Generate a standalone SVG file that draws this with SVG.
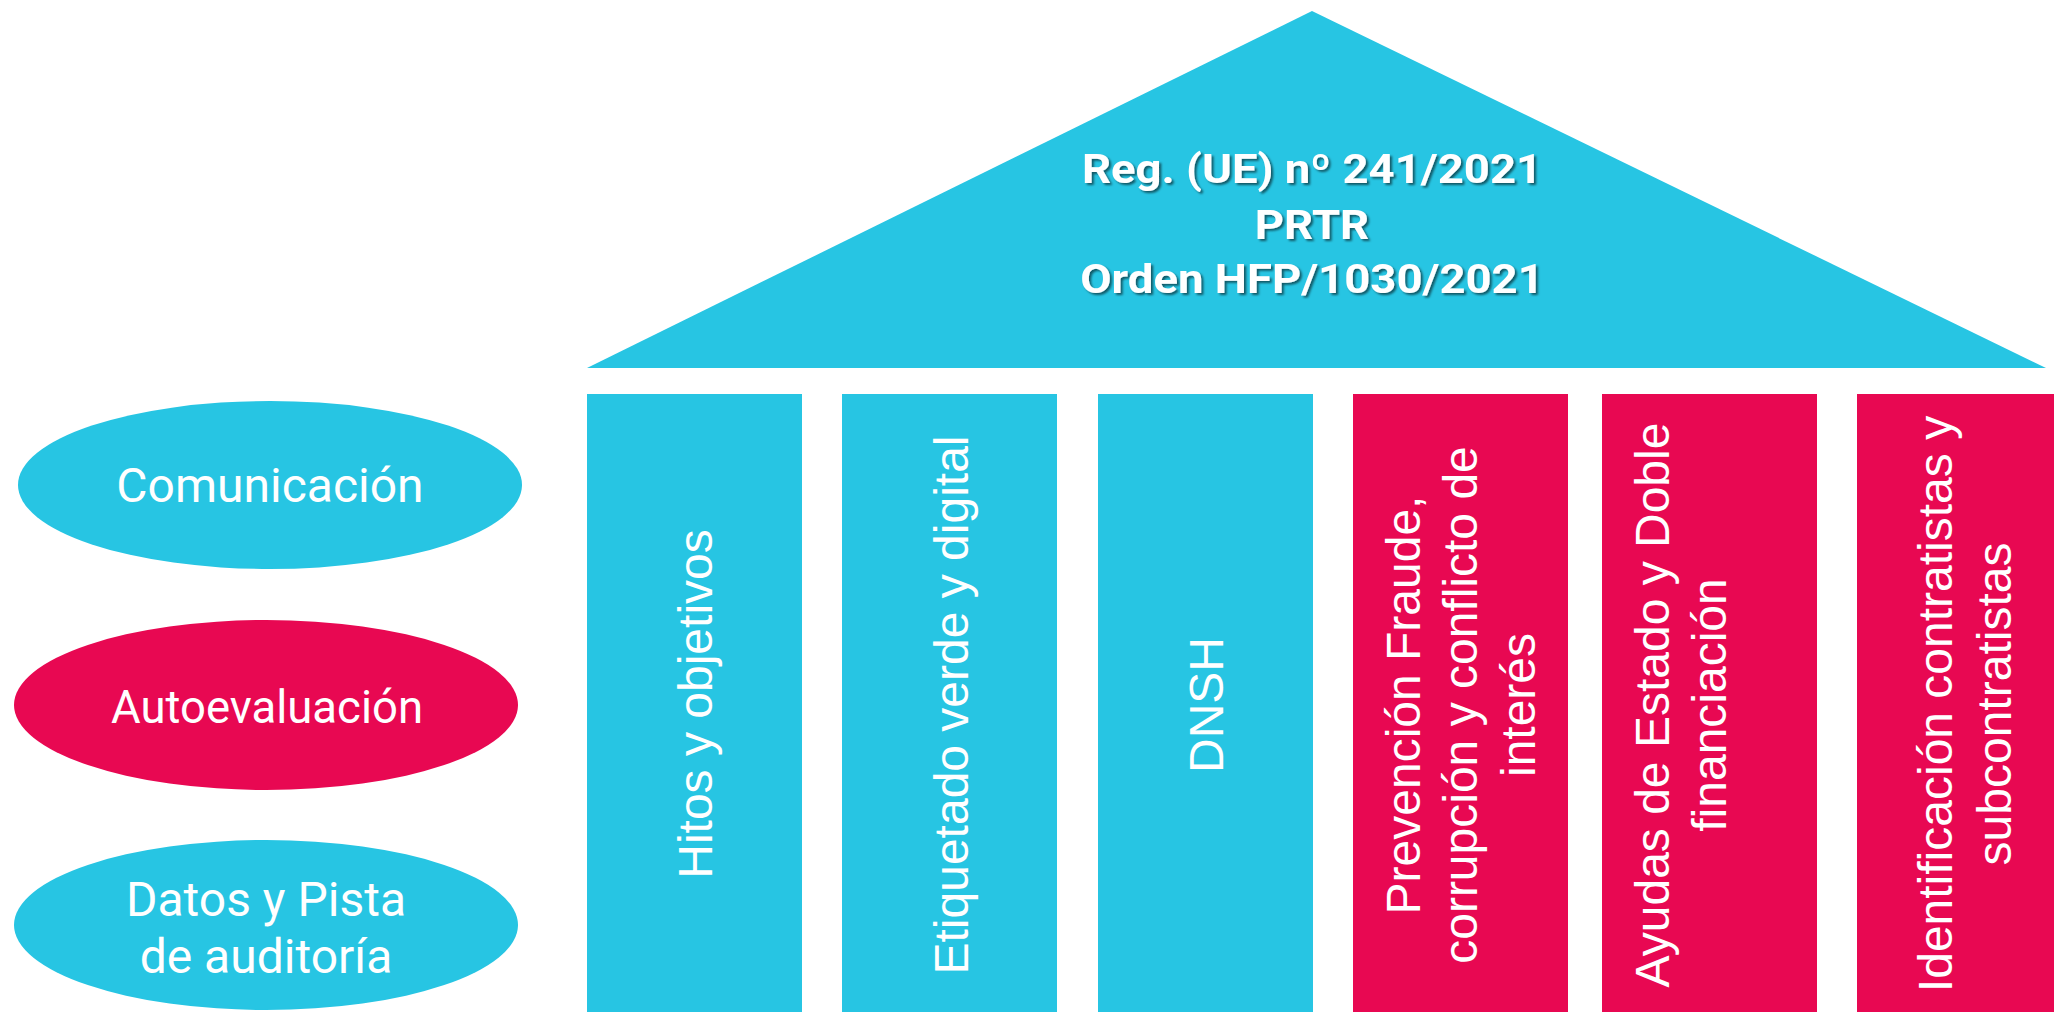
<svg xmlns="http://www.w3.org/2000/svg" width="2054" height="1012" viewBox="0 0 2054 1012">
  <defs>
    <filter id="shadow" x="-10%" y="-30%" width="120%" height="160%">
      <feDropShadow dx="2" dy="2" stdDeviation="1" flood-color="#000" flood-opacity="0.55"/>
    </filter>
  </defs>
  <style>
    .cyan { fill: #27C5E3; }
    .mag { fill: #E80852; }
    .ell { font-family: Roboto, "Liberation Sans", sans-serif; font-size: 48px; fill: #fff; text-anchor: middle; }
    .col { font-family: "Liberation Sans", Arial, sans-serif; font-size: 48px; fill: #fff; text-anchor: middle; }
    .roof { font-family: Roboto, "Liberation Sans", sans-serif; font-weight: bold; font-size: 41px; fill: #fff; text-anchor: middle; filter: url(#shadow); }
  </style>
  <rect width="2054" height="1012" fill="#fff"/>
  <g id="connectors"></g>

  <g id="roof">
    <polygon class="cyan" points="1312,11 587,368 2046,368"/>
    <g transform="translate(1312,0) scale(1.11,1)">
      <text class="roof" x="0" y="183">Reg. (UE) nº 241/2021</text>
      <text class="roof" x="0" y="239">PRTR</text>
      <text class="roof" x="0" y="293">Orden HFP/1030/2021</text>
    </g>
  </g>

  <g id="ell-comunicacion">
    <ellipse class="cyan" cx="270" cy="485" rx="252" ry="84"/>
    <text class="ell" x="270" y="502">Comunicación</text>
  </g>
  <g id="ell-autoevaluacion">
    <ellipse class="mag" cx="266" cy="705" rx="252" ry="85"/>
    <text class="ell" x="267" y="723" style="font-size:45.5px">Autoevaluación</text>
  </g>
  <g id="ell-datos">
    <ellipse class="cyan" cx="266" cy="925" rx="252" ry="85"/>
    <text class="ell" x="266" y="916">Datos y Pista</text>
    <text class="ell" x="266" y="973">de auditoría</text>
  </g>

  <g id="col-hitos">
    <rect class="cyan" x="587" y="394" width="215" height="618"/>
    <text class="col" transform="translate(712,704) rotate(-90)">Hitos y objetivos</text>
  </g>
  <g id="col-etiquetado">
    <rect class="cyan" x="842" y="394" width="215" height="618"/>
    <text class="col" transform="translate(968,705) rotate(-90)">Etiquetado verde y digital</text>
  </g>
  <g id="col-dnsh">
    <rect class="cyan" x="1098" y="394" width="215" height="618"/>
    <text class="col" transform="translate(1223,705) rotate(-90)">DNSH</text>
  </g>
  <g id="col-prevencion">
    <rect class="mag" x="1353" y="394" width="215" height="618"/>
    <text class="col" transform="translate(1420,705) rotate(-90)"><tspan x="0" y="0">Prevención Fraude,</tspan><tspan x="0" y="57">corrupción y conflicto de</tspan><tspan x="0" y="115">interés</tspan></text>
  </g>
  <g id="col-ayudas">
    <rect class="mag" x="1602" y="394" width="215" height="618"/>
    <text class="col" transform="translate(1669,705) rotate(-90)"><tspan x="0" y="0">Ayudas de Estado y Doble</tspan><tspan x="0" y="57">financiación</tspan></text>
  </g>
  <g id="col-identificacion">
    <rect class="mag" x="1857" y="394" width="215" height="618"/>
    <text class="col" transform="translate(1952,704) rotate(-90)"><tspan x="0" y="0">Identificación contratistas y</tspan><tspan x="0" y="59">subcontratistas</tspan></text>
  </g>
</svg>
